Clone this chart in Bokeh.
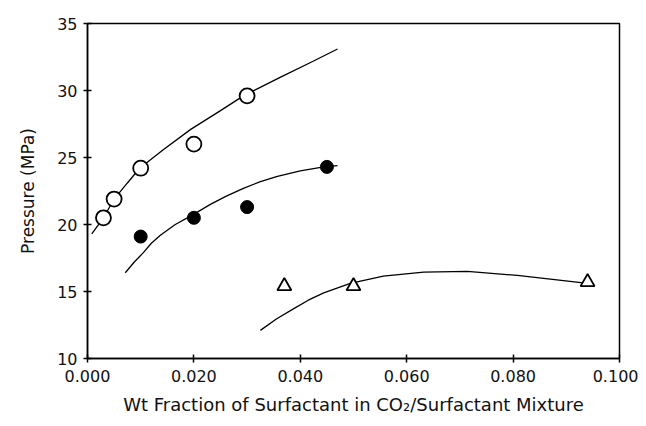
from bokeh.plotting import figure
from bokeh.models import FixedTicker, NumeralTickFormatter, Range1d
from bokeh.embed import file_html
from bokeh.resources import INLINE

# Data points
open_x = [0.003, 0.005, 0.010, 0.020, 0.030]
open_y = [20.5, 21.9, 24.2, 26.0, 29.6]
filled_x = [0.010, 0.020, 0.030, 0.045]
filled_y = [19.1, 20.5, 21.3, 24.3]
tri_x = [0.037, 0.050, 0.094]
tri_y = [15.4, 15.4, 15.7]

# Fitted curves
c1_x = [0.0008, 0.003, 0.005, 0.0075, 0.0098, 0.0143, 0.0194, 0.025, 0.0293, 0.0363, 0.0425, 0.047]
c1_y = [19.3, 20.5, 21.9, 23.1, 24.2, 25.6, 27.1, 28.5, 29.6, 31.0, 32.2, 33.1]
c2_x = [0.0071, 0.0088, 0.0105, 0.012, 0.0137, 0.0165, 0.0197, 0.0231, 0.026, 0.0293, 0.0325, 0.0357, 0.040, 0.0444, 0.047]
c2_y = [16.4, 17.2, 17.9, 18.6, 19.2, 20.0, 20.7, 21.5, 22.1, 22.7, 23.2, 23.6, 24.0, 24.3, 24.4]
c3_x = [0.0325, 0.0355, 0.0387, 0.0415, 0.0444, 0.0494, 0.0556, 0.0632, 0.0714, 0.0808, 0.094]
c3_y = [12.1, 12.95, 13.7, 14.35, 14.9, 15.6, 16.15, 16.45, 16.5, 16.2, 15.6]

x_ticks = [0.0, 0.02, 0.04, 0.06, 0.08, 0.10]
y_ticks = [10, 15, 20, 25, 30, 35]

FONT = "DejaVu Sans"

p = figure(width=638, height=418, output_backend="svg", toolbar_location=None,
           x_range=Range1d(0, 0.1), y_range=Range1d(10, 35),
           min_border_left=87, min_border_right=19, min_border_top=23, min_border_bottom=60)
p.grid.visible = False
p.outline_line_color = "black"
p.outline_line_width = 1.5
p.background_fill_color = "white"
p.border_fill_color = "white"

for ax in (p.xaxis, p.yaxis):
    ax.axis_line_color = "black"
    ax.axis_line_width = 1.5
    ax.major_tick_line_color = "black"
    ax.major_tick_line_width = 1.5
    ax.major_tick_in = 4
    ax.major_tick_out = 4
    ax.minor_tick_line_color = None
    ax.major_label_text_font = FONT
    ax.major_label_text_font_size = "16px"
    ax.major_label_text_color = "#111111"
    ax.axis_label_text_font = FONT
    ax.axis_label_text_font_size = "17px"
    ax.axis_label_text_font_style = "normal"
    ax.axis_label_text_color = "#111111"

p.xaxis.axis_label_text_font_size = "18px"
p.xaxis.ticker = FixedTicker(ticks=x_ticks)
p.yaxis.ticker = FixedTicker(ticks=y_ticks)
p.xaxis.formatter = NumeralTickFormatter(format="0.000")
p.xaxis.axis_label = "Wt Fraction of Surfactant in CO\u2082/Surfactant Mixture"
p.yaxis.axis_label = "Pressure (MPa)"
p.xaxis.major_label_standoff = 7
p.xaxis.axis_label_standoff = 9
p.yaxis.major_label_standoff = 6
p.yaxis.axis_label_standoff = 16

p.line(c1_x, c1_y, line_color="black", line_width=1.3)
p.line(c2_x, c2_y, line_color="black", line_width=1.3)
p.line(c3_x, c3_y, line_color="black", line_width=1.3)

p.scatter(open_x, open_y, marker="circle", size=15, fill_color="white",
          line_color="black", line_width=1.8)
p.scatter(filled_x, filled_y, marker="circle", size=13, fill_color="black",
          line_color="black")
p.scatter(tri_x, tri_y, marker="triangle", size=14, fill_color="white",
          line_color="black", line_width=1.8)

open("out.html", "w").write(file_html(p, INLINE))
